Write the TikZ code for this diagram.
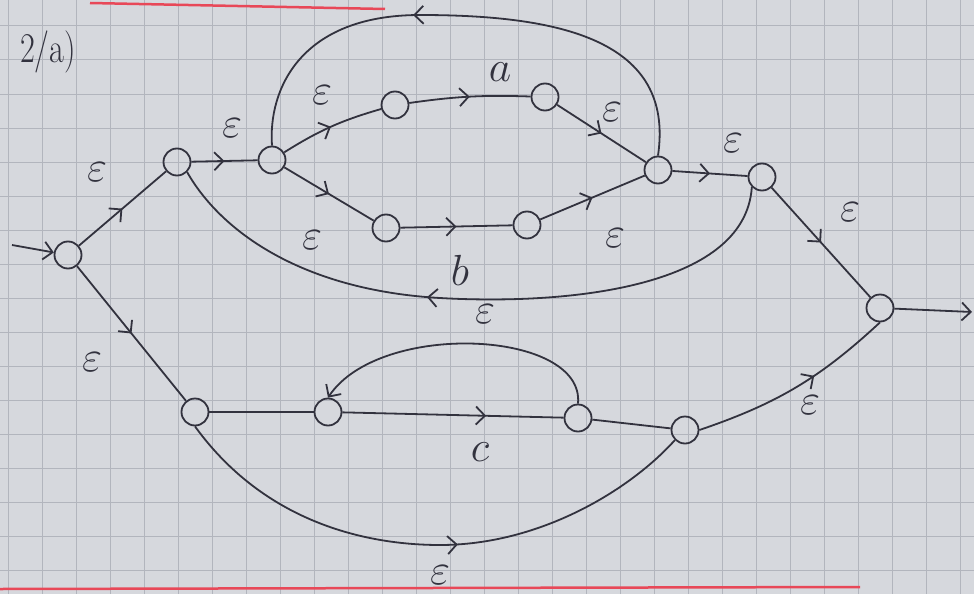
\documentclass[tikz,border=0pt]{standalone}
\usetikzlibrary{arrows.meta,decorations.markings}
\definecolor{paper}{RGB}{214,216,221}
\definecolor{gridline}{RGB}{178,181,189}
\definecolor{ink}{RGB}{50,50,62}
\definecolor{margin}{RGB}{232,72,88}
\newcommand{\lab}[1]{\scalebox{1.75}{$#1$}}
\tikzset{
  state/.style={circle,draw=ink,line width=1.8pt,minimum size=27pt,inner sep=0pt},
  edge/.style={draw=ink,line width=1.8pt},
  tip/.style={-{Straight Barb[length=9pt,width=18pt]}},
  midarrow/.style={postaction={decorate,decoration={markings,
      mark=at position #1 with {\arrow[ink,line width=1.8pt]{Straight Barb[length=9pt,width=18pt]}}}}},
  midarrow/.default=0.5,
  lbl/.style={text=ink,font=\Huge},
}
\begin{document}
\begin{tikzpicture}[x=1pt,y=-1pt]
  \useasboundingbox (0,0) rectangle (974,594);
  \clip (0,0) rectangle (974,594);
  % paper with grid
  \fill[paper] (0,0) rectangle (974,594);
  \foreach \x in {8,42,...,974}
    \draw[gridline,line width=1pt] (\x,0) -- (\x,594);
  \foreach \y in {26,60,...,594}
    \draw[gridline,line width=1pt] (0,\y) -- (974,\y);
  \draw[margin,line width=2.5pt] (90,3) -- (385,9);
  \draw[margin,line width=2.5pt] (0,589) -- (860,587);

  \node[text=ink,font=\Huge] (title) at (48,52) {\scalebox{1.3}[1.7]{2/a)}};

  % states
  \node[state] (s0) at (68,255) {};
  \node[state] (s1) at (177,162) {};
  \node[state] (s2) at (272,160) {};
  \node[state] (s3) at (395,105) {};
  \node[state] (s4) at (545,97) {};
  \node[state] (s5) at (386,228) {};
  \node[state] (s6) at (527,225) {};
  \node[state] (s7) at (658,170) {};
  \node[state] (s8) at (762,177) {};
  \node[state] (s9) at (880,308) {};
  \node[state] (s10) at (195,412) {};
  \node[state] (s11) at (328,412) {};
  \node[state] (s12) at (578,418) {};
  \node[state] (s13) at (685,430) {};
  \coordinate (in) at (12,245);
  \coordinate (out) at (972,312);

  % transitions
  \draw[edge,tip] (in) -- (s0);
  \draw[edge,tip] (s9) -- (out);
  \draw[edge,midarrow] (s0) -- (s1);
  \draw[edge,midarrow] (s1) -- (s2);
  \draw[edge,midarrow] (s2) to[bend left=8] (s3);
  \draw[edge,midarrow] (s3) to[bend left=5] (s4);
  \draw[edge,midarrow] (s4) -- (s7);
  \draw[edge,midarrow] (s2) -- (s5);
  \draw[edge,midarrow] (s5) -- (s6);
  \draw[edge,midarrow] (s6) -- (s7);
  \draw[edge,midarrow] (s7) -- (s8);
  \draw[edge,midarrow] (s8) -- (s9);
  \draw[edge,midarrow=0.6] (s7.north)
    .. controls (675,40) and (560,15) .. (420,15)
    .. controls (300,15) and (268,90) .. (s2.north);
  \draw[edge,midarrow=0.57] (s8.south west)
    .. controls (745,290) and (560,305) .. (440,298)
    .. controls (300,290) and (220,230) .. (s1.south east);
  \draw[edge,midarrow] (s0) -- (s10);
  \draw[edge] (s10) -- (s11);
  \draw[edge,midarrow=0.65] (s11) -- (s12);
  \draw[edge,tip] (s12.north)
    .. controls (585,330) and (380,320) .. (s11.north);
  \draw[edge] (s12) -- (s13);
  \draw[edge,midarrow=0.6] (s13.east) to[bend right=12] (s9.south);
  \draw[edge,midarrow=0.55] (s10.south)
    .. controls (270,530) and (380,545) .. (440,545)
    .. controls (540,545) and (630,490) .. (s13.south west);

  % labels
  \node[lbl] (l01) at (97,172) {\lab{\varepsilon}};
  \node[lbl] (l12) at (232,128) {\lab{\varepsilon}};
  \node[lbl] (l23) at (322,95) {\lab{\varepsilon}};
  \node[lbl] (l34) at (500,72) {\lab{a}};
  \node[lbl] (l47) at (612,112) {\lab{\varepsilon}};
  \node[lbl] (l25) at (312,240) {\lab{\varepsilon}};
  \node[lbl] (l67) at (615,238) {\lab{\varepsilon}};
  \node[lbl] (l78) at (733,143) {\lab{\varepsilon}};
  \node[lbl] (l89) at (850,212) {\lab{\varepsilon}};
  \node[lbl] (lb) at (460,270) {\lab{b}};
  \node[lbl] (l81) at (485,314) {\lab{\varepsilon}};
  \node[lbl] (l010) at (92,362) {\lab{\varepsilon}};
  \node[lbl] (lc) at (480,452) {\lab{c}};
  \node[lbl] (l139) at (810,405) {\lab{\varepsilon}};
  \node[lbl] (l1013) at (440,575) {\lab{\varepsilon}};
\end{tikzpicture}
\end{document}
